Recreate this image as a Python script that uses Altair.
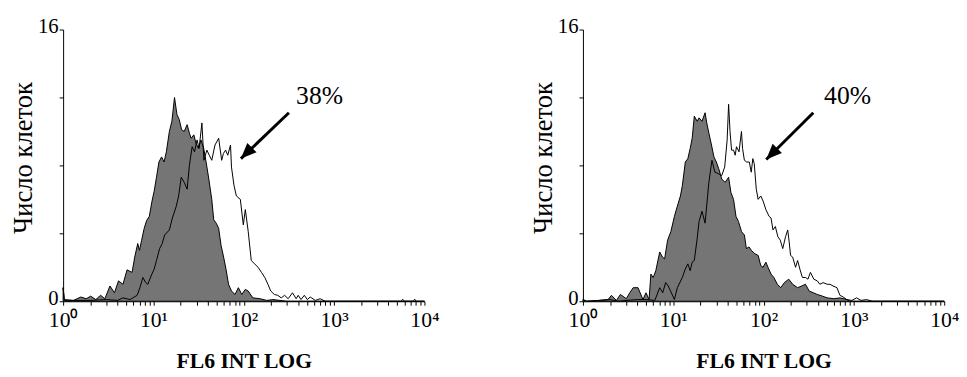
import altair as alt
import pandas as pd

# ---------------- data ----------------
# Left panel (38%)
L_GREY_X = [1.0, 1.03, 1.3, 1.57, 1.8, 2.02, 2.3, 2.6, 2.9, 3.3, 3.7, 4.1, 4.6, 5.1, 5.8, 6.2, 6.7, 7.0, 7.4, 7.9,
            8.4, 9.0, 9.6, 10.2, 10.8, 11.5, 12.3, 13.1, 13.9, 15.0, 16.0, 17.1, 18.2, 19.3, 20.5, 21.9, 23.6, 25.0,
            26.1, 28.0, 29.6, 31.5, 33.6, 36.0, 38.0, 41.0, 44.2, 46.5, 49.5, 52.7, 56.0, 59.8, 63.5, 67.8, 73.1,
            80, 87.1, 95, 104, 112, 126, 151, 180, 210, 300, 10000]
L_GREY_Y = [0.8, 0.1, 0.05, 0.25, 0.15, 0.3, 0.1, 0.35, 0.15, 0.9, 0.5, 1.2, 1.0, 1.85, 1.7, 2.6, 3.4, 3.0, 3.6, 4.3,
            4.75, 5.0, 5.85, 6.5, 7.3, 8.2, 8.5, 8.2, 8.8, 10.0, 10.6, 12.0, 11.0, 10.7, 10.1, 10.0, 10.4, 9.9,
            9.6, 9.8, 9.3, 9.0, 9.5, 9.0, 8.3, 7.2, 6.0, 4.8, 4.6, 4.3, 3.3, 2.6, 1.9, 1.0, 0.6,
            0.4, 0.8, 0.4, 0.7, 0.6, 0.2, 0.15, 0.05, 0.1, 0.0, 0.0]
L_LINE_X = [1.0, 1.03, 2.0, 3.0, 4.0, 4.6, 5.5, 6.6, 7.08, 7.64, 8.2, 8.66, 9.6, 10.2, 10.8, 11.7, 12.5, 13.3, 15.0,
            16.2, 17.9, 19.0, 20.3, 21.9, 23.6, 25.0, 26.8, 28.5, 30.4, 32.0, 34.4, 36.2, 39.0, 41.5, 44.2, 48.0,
            52.7, 56.9, 59.5, 62.9, 66.5, 71.3, 73.1, 78.0, 82.8, 91.6, 98.8, 104, 112, 121, 132, 144, 157, 171,
            185, 199, 218, 238, 260, 283, 310, 346, 380, 400, 430, 468, 505, 544, 620, 700, 800, 5500, 5750, 6000,
            7500, 7800, 8100, 10000]
L_LINE_Y = [0.8, 0.05, 0.05, 0.1, 0.05, 0.2, 0.1, 0.35, 0.8, 1.4, 1.1, 1.0, 1.6, 1.9, 2.4, 3.1, 3.4, 3.9, 4.2,
            4.9, 5.6, 6.2, 7.3, 7.0, 6.6, 8.0, 9.1, 8.8, 9.5, 9.0, 10.5, 8.3, 8.9, 8.6, 8.3, 9.2,
            9.6, 8.3, 8.7, 8.9, 8.6, 9.2, 7.9, 6.8, 6.2, 6.0, 4.5, 5.4, 4.1, 2.4, 2.2, 2.0, 1.7, 1.4,
            1.0, 0.6, 0.4, 0.35, 0.2, 0.35, 0.15, 0.5, 0.15, 0.35, 0.1, 0.35, 0.1, 0.25, 0.05, 0.15, 0.0, 0.0, 0.12, 0.0,
            0.0, 0.12, 0.0, 0.0]

# Right panel (40%)
R_GREY_X = [1.0, 1.1, 1.5, 1.9, 2.07, 2.35, 2.6, 3.02, 3.3, 3.6, 4.07, 4.62, 4.99, 5.4, 5.65, 6.0, 6.41, 7.08, 7.6,
            8.03, 8.66, 9.4, 10.3, 11.1, 12.0, 12.6, 13.6, 14.5, 15.4, 16.2, 17.1, 18.4, 19.3, 20.8, 22.5, 23.5,
            24.8, 26.5, 28.2, 30.0, 31.9, 34.4, 37.5, 41.0, 43.5, 46.5, 49.5, 52.7, 57, 61.3, 64.5, 69.0, 73.1,
            80.0, 87.1, 93.0, 98.8, 106, 112, 121, 130, 142, 155, 170, 190, 210, 238, 265, 291, 320, 355, 393,
            450, 505, 600, 700, 834, 900, 10000]
R_GREY_Y = [0.1, 0.0, 0.05, 0.1, 0.35, 0.05, 0.4, 0.15, 0.5, 0.8, 0.8, 0.1, 0.5, 0.1, 1.6, 1.4, 1.8, 2.9, 2.6,
            2.5, 3.6, 4.1, 5.0, 5.6, 6.2, 6.8, 8.2, 8.4, 9.0, 9.6, 10.9, 10.6, 10.8, 10.6, 11.1, 10.5,
            9.9, 9.2, 8.5, 8.2, 7.8, 7.2, 7.0, 7.3, 6.4, 6.0, 5.0, 4.7, 4.1, 3.9, 3.1, 3.2, 3.0,
            2.8, 2.7, 2.1, 2.0, 2.3, 2.0, 1.6, 1.4, 1.0, 0.8, 1.1, 1.3, 1.0, 0.8, 0.9, 1.0, 0.6, 0.5, 0.4,
            0.3, 0.2, 0.15, 0.2, 0.1, 0.0, 0.0]
R_LINE_X = [1.0, 1.1, 1.5, 2.0, 2.5, 3.0, 4.0, 5.0, 6.25, 7.08, 7.64, 8.24, 8.8, 9.33, 10.3, 11.1, 12.6, 13.6, 14.5,
            15.4, 16.2, 17.1, 18.4, 19.3, 20.8, 22.5, 24.8, 26.8, 28.9, 31.9, 34.4, 37.1, 39.5, 41.0, 42.5, 44.2,
            46.5, 48.5, 50.1, 53.5, 56.9, 58.5, 61.3, 65.0, 69.5, 73.0, 76.0, 78.8, 83.0, 87.1, 93.0, 98.8, 106,
            115, 121, 127, 135, 144, 153, 163, 175, 185, 192, 199, 210, 226, 238, 252, 269, 291, 310, 330, 360,
            393, 420, 456, 505, 544, 587, 649, 700, 760, 834, 950, 1071, 1200, 1377, 1600, 10000]
R_LINE_Y = [0.1, 0.0, 0.05, 0.1, 0.0, 0.05, 0.1, 0.1, 0.05, 0.8, 0.5, 1.1, 0.9, 0.6, 0.1, 0.8, 1.4, 1.9, 2.2,
            1.8, 2.3, 2.4, 3.7, 4.7, 5.3, 4.6, 7.0, 8.3, 7.6, 7.5, 7.4, 7.9, 9.5, 11.6, 10.0, 8.9,
            8.9, 8.6, 9.1, 8.8, 10.0, 9.0, 8.3, 8.2, 8.2, 7.6, 8.4, 8.1, 6.6, 6.0, 6.2, 5.9, 5.4,
            5.0, 4.9, 4.2, 4.4, 3.8, 3.6, 3.1, 3.8, 4.2, 3.5, 2.7, 2.6, 2.0, 2.4, 1.9, 1.4, 1.4, 1.3, 1.7, 1.3,
            1.2, 1.0, 1.1, 1.0, 1.0, 0.9, 0.8, 0.35, 0.25, 0.1, 0.05, 0.2, 0.05, 0.1, 0.0, 0.0]

# annotations: label text, label position, arrow start and arrow tip (data units)
LABELS = ["38%", "40%"]
LABEL_X = [690, 850]
LABEL_Y = [12.1, 12.1]
ARROW_FROM_X = [316, 355]
ARROW_FROM_Y = [11.1, 11.1]
ARROW_TIP_X = [93, 107]
ARROW_TIP_Y = [8.4, 8.35]

DECADES = [1, 10, 100, 1000, 10000]
DECADE_LABELS = ["10⁰", "10¹", "10²", "10³", "10⁴"]
Y_TICKS = [0, 4, 8, 12, 16]
Y_TITLE = "Число клеток"
X_TITLE = "FL6 INT LOG"

# ---------------- chart ----------------
FONT = "Liberation Serif, Times New Roman, Times, serif"
GREY = "#757575"
W, H = 367, 276

x_ticks = [m * d for d in DECADES[:-1] for m in range(1, 10)] + [DECADES[-1]]
x_label_expr = " : ".join(
    [f"datum.value == {d} ? '{lab}'" for d, lab in zip(DECADES, DECADE_LABELS)]
) + " : ''"

xscale = alt.Scale(type="log", domain=[1, 10000], nice=False)
yscale = alt.Scale(domain=[0, 16], nice=False, zero=True)

xaxis = alt.Axis(values=x_ticks, labelExpr=x_label_expr, title=X_TITLE, grid=False,
                 tickSize=4, labelOverlap=False, labelFlush=False, labelFontSize=22, labelPadding=5,
                 titleFontSize=22, titleFontWeight="bold", titlePadding=20)
yaxis = alt.Axis(values=Y_TICKS, labelExpr="datum.value == 0 || datum.value == 16 ? datum.label : ''",
                 title=Y_TITLE, grid=False, tickSize=4, labelFontSize=21, labelPadding=1,
                 labelOffset=-3, labelFlush=False, titleFontSize=27, titleFontWeight="normal",
                 titlePadding=0, titleY=130)


def panel(gx, gy, lx, ly, i):
    grey = pd.DataFrame({"x": gx, "y": gy})
    line = pd.DataFrame({"x": lx, "y": ly})
    arrow = pd.DataFrame({"x": [ARROW_FROM_X[i], ARROW_TIP_X[i]], "y": [ARROW_FROM_Y[i], ARROW_TIP_Y[i]]})
    tip = pd.DataFrame({"x": [ARROW_TIP_X[i]], "y": [ARROW_TIP_Y[i]]})
    lab = pd.DataFrame({"x": [LABEL_X[i]], "y": [LABEL_Y[i]], "t": [LABELS[i]]})

    X = alt.X("x:Q", scale=xscale, axis=xaxis)
    Y = alt.Y("y:Q", scale=yscale, axis=yaxis)

    area = alt.Chart(grey).mark_area(fill=GREY, fillOpacity=1, stroke="black", strokeWidth=1,
                                     interpolate="linear").encode(x=X, y=Y)
    outline = alt.Chart(line).mark_line(color="black", strokeWidth=1,
                                        interpolate="linear").encode(x=X, y=Y)
    shaft = alt.Chart(arrow).mark_line(color="black", strokeWidth=3).encode(x=X, y=Y)
    head = alt.Chart(tip).mark_point(shape="M0,0L0.42,1L-0.42,1Z", size=1000, filled=True,
                                     color="black", opacity=1, angle=225).encode(x=X, y=Y)
    text = alt.Chart(lab).mark_text(font=FONT, fontSize=26, color="black").encode(x=X, y=Y, text="t:N")
    return alt.layer(area, outline, shaft, head, text).properties(width=W, height=H)


left = panel(L_GREY_X, L_GREY_Y, L_LINE_X, L_LINE_Y, 0)
right = panel(R_GREY_X, R_GREY_Y, R_LINE_X, R_LINE_Y, 1)

chart = alt.hconcat(left, right, spacing=92).properties(
    padding={"left": 2, "top": 5, "right": 0, "bottom": 0}
).configure_view(strokeWidth=0).configure_axis(
    labelFont=FONT, titleFont=FONT, labelColor="black", titleColor="black",
    domainColor="black", tickColor="black", domainWidth=1, tickWidth=1
)

chart.save("out.html", embed_options={"renderer": "svg", "actions": False})
